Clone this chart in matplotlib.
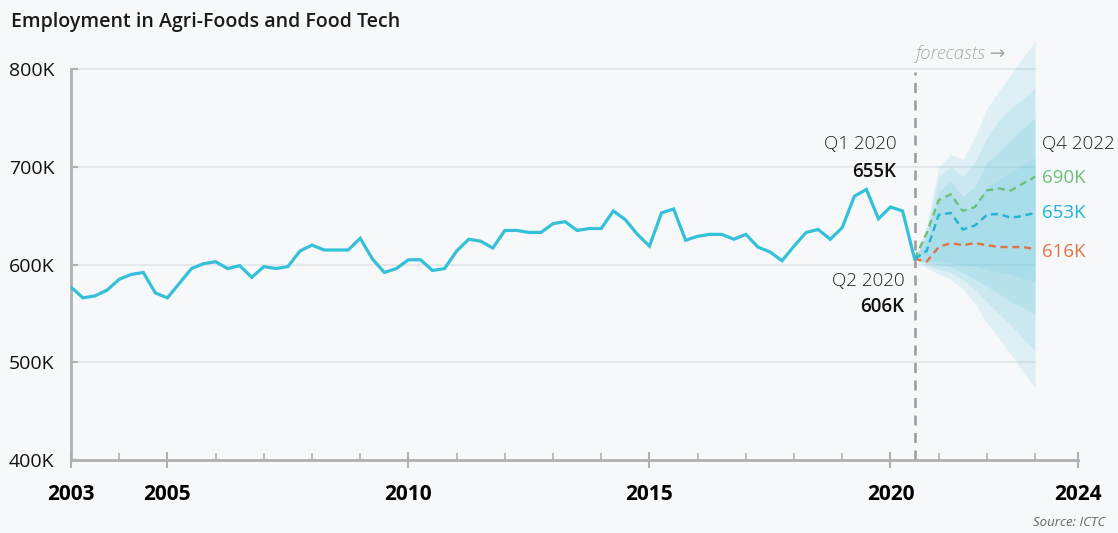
import numpy as np
import matplotlib.pyplot as plt
from matplotlib.ticker import FixedLocator, FuncFormatter

# quarterly employment (thousands), end of each quarter, 2003.0 .. 2020.5
start_year = 2003.0
employment = [
    577, 566, 568, 574, 585, 590, 592, 571, 566, 581, 596, 601,
    603, 596, 599, 587, 598, 596, 598, 614, 620, 615, 615, 615,
    627, 606, 592, 596, 605, 605, 594, 596, 614, 626, 624, 617,
    635, 635, 633, 633, 642, 644, 635, 637, 637, 655, 646, 631,
    619, 653, 657, 625, 629, 631, 631, 626, 631, 618, 613, 604,
    619, 633, 636, 626, 638, 670, 677, 647, 659, 655, 606,
]

# forecasts, Q2 2020 .. Q4 2022
fc_high = [606, 632, 666, 672, 655, 659, 676, 678, 676, 683, 690]
fc_mid = [606, 614, 651, 653, 636, 640, 651, 652, 648, 650, 653]
fc_low = [606, 603, 618, 622, 620, 622, 620, 618, 618, 618, 616]

# fan chart bands (outer -> inner)
band_upper = [
    [606, 640, 700, 713, 708, 730, 760, 778, 795, 812, 829],
    [606, 635, 690, 700, 690, 705, 730, 748, 760, 770, 781],
    [606, 630, 675, 685, 670, 680, 705, 715, 728, 740, 750],
    [606, 625, 665, 672, 655, 660, 680, 688, 695, 702, 710],
]
band_lower = [
    [606, 597, 590, 585, 575, 560, 540, 525, 508, 490, 474],
    [606, 600, 595, 592, 585, 575, 562, 550, 538, 525, 512],
    [606, 602, 600, 598, 592, 585, 578, 570, 562, 556, 550],
    [606, 604, 604, 602, 600, 598, 595, 592, 590, 586, 583],
]

major_labels = ['2003', '2005', '2010', '2015', '2020', '2024']
y_ticks = [400, 500, 600, 700, 800]
x_end = 2023.89  # axis end, labelled 2024

bg = '#f7f8fa'
line_col = '#35c0da'
green = '#6cc07a'
blue = '#1fb3d6'
orange = '#e0734a'

plt.rcParams['font.family'] = ['Open Sans', 'DejaVu Sans']

x_hist = start_year + 0.25 * np.arange(len(employment))
x_fc = x_hist[-1] + 0.25 * np.arange(len(fc_mid))

fig = plt.figure(figsize=(11.18, 5.33), dpi=100, facecolor=bg)
ax = fig.add_axes([71 / 1118, 1 - 460 / 533, (1078 - 71) / 1118, (460 - 40) / 533])
ax.set_facecolor(bg)

ax.set_xlim(2003, x_end)
ax.set_ylim(400, 830)

# grid lines only across data range
for v in y_ticks[1:]:
    ax.plot([2003, x_fc[-1]], [v, v], color='#e6e7ea', lw=1.5, zorder=0)

for up, lo in zip(band_upper, band_lower):
    ax.fill_between(x_fc, lo, up, color='#5cc6dc', alpha=0.16, lw=0, zorder=1)

ax.plot([x_hist[-1], x_hist[-1]], [400, 797], color='#9a9a9a', lw=1.8,
        ls=(0, (4, 3)), zorder=2)

ax.plot(x_hist, employment, color=line_col, lw=2.3, zorder=4, solid_joinstyle='miter')
ax.plot(x_fc, fc_high, color=green, lw=1.7, ls=(0, (3, 2)), zorder=3)
ax.plot(x_fc, fc_mid, color=blue, lw=1.7, ls=(0, (3, 2)), zorder=3)
ax.plot(x_fc, fc_low, color=orange, lw=1.7, ls=(0, (3, 2)), zorder=3)

for s in ['top', 'right']:
    ax.spines[s].set_visible(False)
for s in ['left', 'bottom']:
    ax.spines[s].set_color('#b0b0b0')
    ax.spines[s].set_linewidth(2)
ax.spines['left'].set_bounds(400, 800)

ax.set_yticks(y_ticks)
ax.yaxis.set_major_formatter(FuncFormatter(lambda v, p: '%dK' % v))
ax.tick_params(axis='y', direction='in', length=5, width=1.5, color='#b0b0b0',
               labelsize=14, pad=12, labelcolor='#111111')
for lbl in ax.get_yticklabels():
    lbl.set_fontweight('medium')

ax.set_xticks([2003, 2005, 2010, 2015, 2020, x_end])
ax.set_xticklabels(major_labels)
ax.xaxis.set_minor_locator(FixedLocator(range(2003, 2024)))
ax.tick_params(axis='x', which='major', direction='inout', length=12, width=1.5,
               color='#b0b0b0', labelsize=15, pad=11)
ax.tick_params(axis='x', which='minor', direction='in', length=5, width=1.2, color='#b0b0b0')
for lbl in ax.get_xticklabels():
    lbl.set_fontweight('bold')

# annotations
ax.text(2020.13, 724, 'Q1 2020', ha='right', va='center', fontsize=13.5,
        fontweight='light', color='#222222')
ax.text(2020.12, 695, '655K', ha='right', va='center', fontsize=13.5,
        fontweight='semibold', color='#111111')
ax.text(2020.29, 583, 'Q2 2020', ha='right', va='center', fontsize=13.5,
        fontweight='light', color='#222222')
ax.text(2020.29, 557, '606K', ha='right', va='center', fontsize=13.5,
        fontweight='semibold', color='#111111')

ax.text(2023.15, 724, 'Q4 2022', ha='left', va='center', fontsize=13.5,
        fontweight='light', color='#222222', clip_on=False)
ax.text(2023.15, 689, '%dK' % fc_high[-1], ha='left', va='center',
        fontsize=13.5, color=green, clip_on=False)
ax.text(2023.15, 653, '%dK' % fc_mid[-1], ha='left', va='center',
        fontsize=13.5, color=blue, clip_on=False)
ax.text(2023.15, 613, '%dK' % fc_low[-1], ha='left', va='center',
        fontsize=13.5, color=orange, clip_on=False)

ax.text(2020.52, 816, 'forecasts \u2192', ha='left', va='center',
        fontsize=13.5, style='italic', fontweight='light', color='#a8a8a8')

fig.text(11 / 1118, 1 - 22 / 533, 'Employment in Agri-Foods and Food Tech',
         ha='left', va='center', fontsize=14, fontweight='semibold', color='#1a1a1a')
fig.text(1105 / 1118, 1 - 523 / 533, 'Source: ICTC', ha='right', va='center',
         fontsize=9.5, style='italic', color='#666666')

fig.savefig('out.png', dpi=100, facecolor=bg)
